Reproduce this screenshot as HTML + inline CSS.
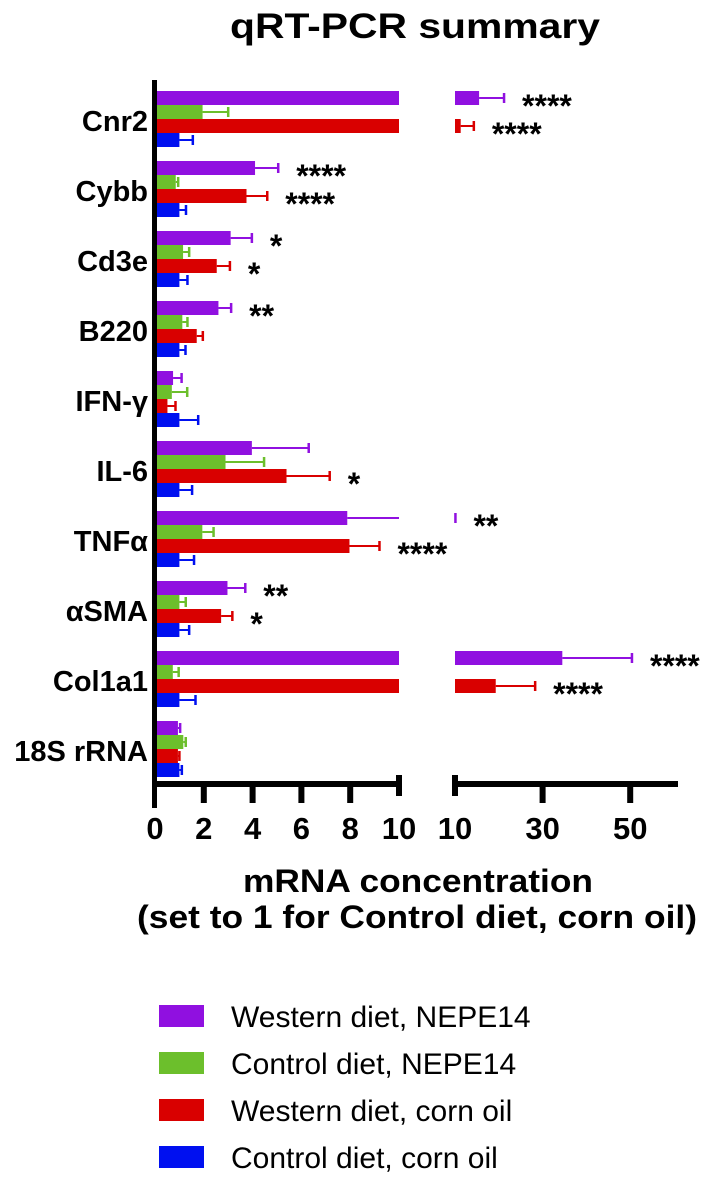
<!DOCTYPE html>
<html><head><meta charset="utf-8"><style>
html,body{margin:0;padding:0;background:#fff;}
svg{display:block;font-family:"Liberation Sans",Arial,sans-serif;}
</style></head><body>
<svg id="chart" width="706" height="1180" viewBox="0 0 706 1180">
<text x="415" y="38" text-anchor="middle" font-size="35" font-weight="bold" textLength="370" lengthAdjust="spacingAndGlyphs">qRT-PCR summary</text>
<g id="plot"></g>
<g id="axes"></g>
<text x="418" y="892" text-anchor="middle" font-size="32" font-weight="bold" textLength="350" lengthAdjust="spacingAndGlyphs">mRNA concentration</text>
<text x="417" y="928" text-anchor="middle" font-size="32" font-weight="bold" textLength="560" lengthAdjust="spacingAndGlyphs">(set to 1 for Control diet, corn oil)</text>
<g id="legend"></g>
</svg>
<script>
const categories = ["Cnr2","Cybb","Cd3e","B220","IFN-γ","IL-6","TNFα","αSMA","Col1a1","18S rRNA"];
const seriesNames = ["Western diet, NEPE14","Control diet, NEPE14","Western diet, corn oil","Control diet, corn oil"];
const seriesColors = ["#9010e0","#6cbf2c","#d90000","#0010f0"];
const westernNepe = [15.5,4.1,3.1,2.6,0.74,3.97,7.88,2.97,34.5,0.94];
const westernNepeErr = [21.2,5.05,3.97,3.12,1.09,6.3,10.1,3.7,50.4,1.03];
const controlNepe = [1.95,0.85,1.15,1.12,0.69,2.89,1.94,1.0,0.73,1.16];
const controlNepeErr = [3.0,0.95,1.4,1.33,1.32,4.47,2.4,1.26,0.97,1.26];
const westernCorn = [11.3,3.75,2.53,1.71,0.51,5.39,7.97,2.71,19.3,0.94];
const westernCornErr = [14.3,4.6,3.07,1.96,0.84,7.16,9.2,3.17,28.3,1.0];
const controlCorn = [1.0,1.0,1.0,1.0,1.0,1.0,1.0,1.0,1.0,1.0];
const controlCornErr = [1.55,1.27,1.33,1.25,1.77,1.52,1.6,1.4,1.66,1.1];
const starsWesternNepe = ["****","****","*","**","","","**","**","****",""];
const starsWesternCorn = ["****","****","*","","","*","****","*","****",""];
const leftTicks = [0,2,4,6,8,10];
const rightTicks = [10,30,50];

const NS = "http://www.w3.org/2000/svg";
function mk(tag, attrs, parent){const e=document.createElementNS(NS,tag);for(const k in attrs)e.setAttribute(k,attrs[k]);parent.appendChild(e);return e;}
// axis functions (broken axis)
const X0=155, LSCALE=24.4, BREAK=10, RSTART=455, RSCALE=4.38, REND=678;
function xl(v){return X0+Math.min(v,BREAK)*LSCALE;}
function xr(v){return RSTART+(v-BREAK)*RSCALE;}
function xAny(v){return v<=BREAK?xl(v):xr(v);}
const GTOP=91, GSTEP=70, BH=14;
function yBar(g,s){return GTOP+g*GSTEP+s*BH;}

const plot=document.getElementById('plot');
const vals=[westernNepe,controlNepe,westernCorn,controlCorn];
const errs=[westernNepeErr,controlNepeErr,westernCornErr,controlCornErr];
const stars=[starsWesternNepe,null,starsWesternCorn,null];
const keys=["western-nepe","control-nepe","western-corn","control-corn"];
categories.forEach((cat,g)=>{
  const lab=mk('text',{x:148,y:GTOP+g*GSTEP+40,'text-anchor':'end','font-size':29,'font-weight':'bold'},plot);
  lab.textContent=cat;
  
  
  for(let s=0;s<4;s++){
    const v=vals[s][g], e=errs[s][g], y=yBar(g,s), c=seriesColors[s], cy=y+BH/2;
    const b=mk('rect',{x:157,y:y,width:Math.max(0,xl(v)-157),height:BH,fill:c},plot);
    
    
    if(v>BREAK){
      const b2=mk('rect',{x:RSTART,y:y,width:xr(v)-RSTART,height:BH,fill:c},plot);
      
      
    }
    // error bar
    const ex=xAny(e);
    if(v<BREAK && e>BREAK){
      mk('line',{x1:xl(v),y1:cy,x2:xl(BREAK),y2:cy,stroke:c,'stroke-width':2},plot);
      mk('line',{x1:RSTART,y1:cy,x2:ex,y2:cy,stroke:c,'stroke-width':2},plot);
    } else {
      mk('line',{x1:xAny(v),y1:cy,x2:ex,y2:cy,stroke:c,'stroke-width':2},plot);
    }
    const cap=mk('line',{x1:ex,y1:cy-5,x2:ex,y2:cy+5,stroke:c,'stroke-width':2.5},plot);
    
    
    if(stars[s] && stars[s][g]){
      const t=mk('text',{x:ex+18,y:cy+19,'font-size':32,'font-weight':'bold'},plot);
      t.textContent=stars[s][g];
      
      
    }
  }
});

// axes
const axes=document.getElementById('axes');
mk('rect',{x:152,y:80,width:5,height:728,fill:'#000'},axes);
mk('rect',{x:152,y:781,width:249,height:6,fill:'#000'},axes);
mk('rect',{x:396,y:775,width:6,height:21,fill:'#000'},axes);
mk('rect',{x:452,y:781,width:REND-452,height:6,fill:'#000'},axes);
mk('rect',{x:452,y:775,width:6,height:21,fill:'#000'},axes);
leftTicks.forEach(t=>{
  const x=xl(t);
  if(t>0&&t<BREAK) mk('rect',{x:x-3,y:784,width:6,height:19,fill:'#000'},axes);
  const l=mk('text',{x:x,y:839,'text-anchor':'middle','font-size':31,'font-weight':'bold'},axes);
  l.textContent=t;
  
  
});
rightTicks.forEach(t=>{
  const x=xr(t);
  if(t>BREAK) mk('rect',{x:x-3,y:784,width:6,height:19,fill:'#000'},axes);
  const l=mk('text',{x:x,y:839,'text-anchor':'middle','font-size':31,'font-weight':'bold'},axes);
  l.textContent=t;
  
  
});

// legend
const leg=document.getElementById('legend');
seriesNames.forEach((n,i)=>{
  const y=1005+i*47;
  const r=mk('rect',{x:159,y:y,width:45,height:22,fill:seriesColors[i]},leg);
  
  
  const t=mk('text',{x:231,y:y+22,'font-size':30},leg);
  t.textContent=n;
  
  
});
</script>
</body></html>
